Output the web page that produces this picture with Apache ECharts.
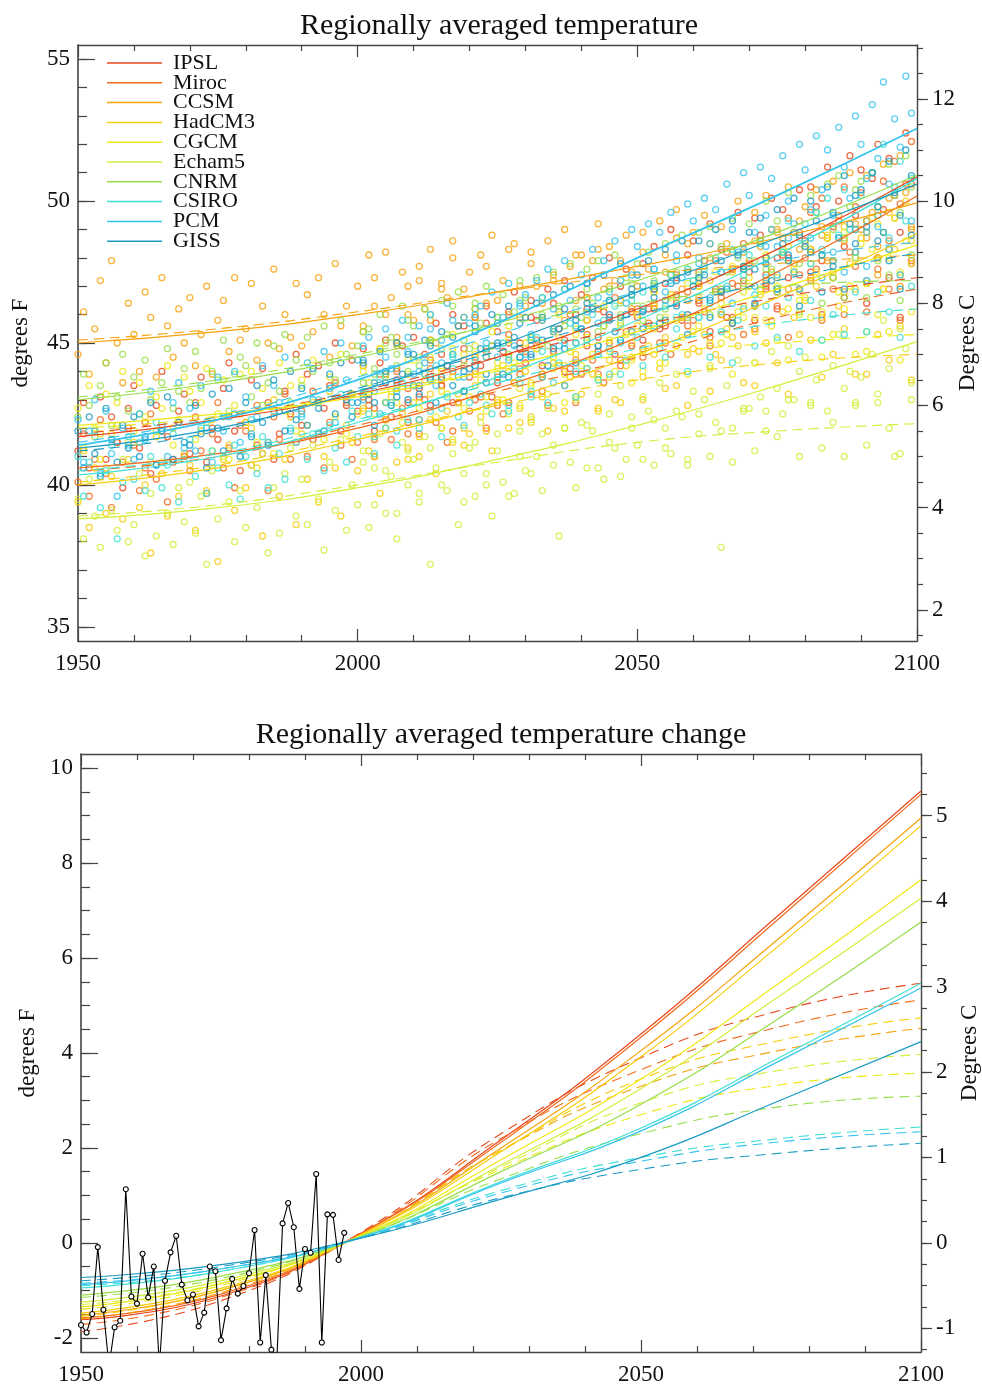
<!DOCTYPE html>
<html>
<head>
<meta charset="utf-8">
<title>Regionally averaged temperature</title>
<script src="https://cdn.jsdelivr.net/npm/echarts@6/dist/echarts.min.js"></script>
<style>
  html, body { margin: 0; padding: 0; background: #fff; }
  #chart { width: 982px; height: 1386px; }
</style>
</head>
<body>
<div id="chart"></div>
<script>
// ---- Models and colours ----
const models = ['IPSL', 'Miroc', 'CCSM', 'HadCM3', 'CGCM', 'Echam5', 'CNRM', 'CSIRO', 'PCM', 'GISS'];
const modelColors = ['#e8481e', '#f26a1b', '#f6a20c', '#f7cc0a', '#efe814', '#d4ee3c', '#98de4a', '#3ee0d6', '#34c4ee', '#1a9cc4'];

// ---- Annual model temperatures (deg F): A2 runs 1950-2099, B1 runs every 2nd year 2001-2099 ----
const runStartYear = 1950;
const b1StartYear = 2001;
const b1Step = 2;

const ipslA2Run = [
  41.2,42.9,40.6,41.9,43.1,40.9,42.4,41.5,39.9,42.7,
  43.5,41.3,42.2,40.4,42.8,44.0,41.7,40.9,42.6,43.2,
  41.1,42.9,43.8,40.8,42.0,41.6,43.4,44.3,41.9,40.5,
  42.2,43.7,41.4,44.1,42.9,40.9,41.8,43.3,42.5,44.6,
  42.1,43.9,41.6,44.2,42.7,43.5,45.0,41.9,42.8,44.4,
  42.6,44.8,43.0,41.9,44.3,45.1,42.4,43.7,44.9,42.2,
  45.2,43.1,44.6,42.8,45.7,43.5,44.2,46.0,42.9,44.8,
  43.8,45.9,44.2,46.3,43.1,45.4,44.7,42.9,46.8,45.0,
  44.3,46.5,45.8,43.9,46.9,44.7,45.5,47.2,44.1,46.0,
  46.7,44.9,47.3,45.2,46.1,48.0,44.6,46.5,47.6,45.4,
  45.9,47.8,46.2,48.4,45.5,47.1,49.0,46.4,45.8,48.1,
  48.6,46.5,47.9,49.2,46.9,48.3,45.9,47.6,49.6,47.2,
  47.5,49.4,48.8,46.9,50.1,48.0,49.7,47.3,48.9,50.4,
  48.6,50.5,49.8,47.9,51.2,49.1,50.0,48.4,51.6,49.5,
  51.1,49.3,50.8,52.0,49.7,51.5,50.2,48.9,52.4,50.6];
const ipslB1Run = [
  44.2,42.7,43.9,45.0,42.9, 43.4,45.1,44.6,42.9,45.6,
  44.0,45.7,43.6,46.1,44.8, 45.9,44.2,46.4,45.1,43.9,
  46.2,44.7,45.9,47.0,44.9, 45.1,46.9,45.6,47.3,46.0,
  47.1,45.4,46.8,45.9,47.6, 45.8,47.4,46.2,48.0,46.9,
  47.5,46.0,47.9,46.6,48.2, 46.4,48.0,47.3,45.9,47.8];

const mirocA2Run = [
  40.1,41.8,39.6,40.9,42.3,40.4,39.2,41.5,40.8,42.0,
  41.4,39.8,40.6,42.5,40.2,41.9,39.4,40.8,42.2,41.0,
  40.5,42.4,41.2,39.7,41.8,42.9,40.6,41.3,39.9,42.1,
  41.9,40.7,42.8,41.1,39.8,42.4,41.6,43.2,40.9,41.5,
  42.6,41.0,43.3,41.8,40.6,42.2,43.6,41.4,42.9,40.9,
  41.5,43.2,42.8,41.0,43.9,42.3,41.6,44.1,42.7,43.4,
  43.5,41.8,43.0,44.4,42.2,43.7,41.5,44.0,42.9,43.3,
  42.6,44.5,43.1,42.0,44.9,43.8,42.5,45.3,43.6,44.1,
  44.7,43.2,45.1,43.8,42.8,45.5,44.2,43.5,46.0,44.4,
  43.9,45.8,44.4,46.2,43.6,45.0,46.6,44.2,45.4,46.1,
  46.2,44.8,45.7,47.1,45.0,46.5,44.6,47.4,45.9,46.8,
  45.8,47.5,46.1,45.2,47.9,46.6,48.2,45.7,47.0,48.5,
  47.8,46.3,48.6,47.1,49.0,46.8,48.1,49.4,47.5,48.9,
  48.0,49.6,47.6,50.1,48.7,47.3,49.3,50.5,48.2,49.8,
  50.3,48.9,51.0,49.5,50.7,48.6,51.4,49.9,50.6,52.1];
const mirocB1Run = [
  43.1,41.6,42.9,44.0,41.8, 42.3,44.1,43.5,41.9,44.4,
  43.0,44.7,42.8,45.0,43.9, 44.9,43.3,45.4,44.0,42.9,
  45.3,43.9,45.8,44.4,46.1, 44.5,46.2,45.0,46.7,45.6,
  46.4,44.9,46.0,47.1,45.3, 45.5,47.0,46.3,45.2,47.4,
  47.2,45.8,46.9,46.0,47.7, 46.1,47.6,46.9,45.8,47.9];

const ccsmA2Run = [
  44.6,46.1,43.9,45.5,47.2,44.3,47.9,45.0,43.6,46.4,
  45.3,44.0,46.8,45.9,43.8,47.3,45.6,44.5,46.2,45.0,
  46.6,44.2,45.3,47.0,43.9,45.8,46.5,44.7,47.3,45.1,
  45.5,47.1,44.4,46.3,45.0,47.6,44.8,46.0,45.2,47.1,
  44.9,46.7,45.4,47.3,46.0,44.5,47.8,45.6,46.3,44.9,
  47.0,45.4,48.1,46.3,44.8,48.2,46.6,45.2,47.5,46.0,
  45.8,47.7,46.2,48.3,45.0,47.1,46.6,48.6,45.6,46.9,
  47.5,45.9,48.1,46.4,48.8,45.7,47.2,46.0,48.5,47.0,
  46.3,48.2,47.0,45.8,48.6,47.4,46.1,49.0,47.7,46.5,
  48.1,46.6,47.9,49.2,46.9,48.4,47.2,45.9,48.8,47.5,
  47.0,48.9,47.6,46.4,49.3,48.1,47.4,49.7,46.9,48.5,
  48.9,47.3,49.5,48.0,46.8,49.1,48.5,47.6,50.0,48.2,
  47.9,49.6,48.4,50.2,47.5,49.0,48.7,50.5,47.8,49.3,
  49.8,48.3,50.4,49.1,47.9,50.7,49.5,48.6,51.0,49.2,
  49.0,50.9,49.6,48.4,51.3,50.1,49.4,51.6,50.3,49.0];
const ccsmB1Run = [
  45.6,47.3,46.0,44.9,47.0, 47.2,45.8,46.9,48.0,45.9,
  46.2,47.7,46.5,48.3,45.9, 47.8,46.4,47.2,45.8,48.1,
  46.6,48.3,47.0,47.9,46.2, 48.2,46.8,47.5,48.7,46.5,
  47.0,48.5,46.9,48.2,47.7, 48.6,47.2,48.9,46.9,48.3,
  47.3,48.8,47.9,46.8,49.0, 48.7,47.4,48.3,47.0,49.1];

const hadcm3A2Run = [
  39.4,41.2,38.5,40.6,41.8,39.0,40.3,42.1,38.8,40.9,
  41.5,39.2,40.0,37.6,41.7,40.4,38.9,42.0,39.6,41.1,
  40.7,38.4,41.9,39.8,42.3,37.3,40.9,41.4,39.1,42.5,
  39.9,42.0,40.6,38.2,41.5,43.0,39.6,40.9,42.4,38.6,
  41.8,40.2,42.9,39.4,41.0,43.3,40.6,38.9,42.1,41.5,
  40.5,42.7,41.2,43.6,39.7,42.0,43.1,40.8,42.5,41.3,
  42.9,41.0,43.7,42.3,40.4,44.1,42.6,41.5,43.2,42.0,
  41.8,43.9,42.4,44.5,41.2,43.0,44.2,42.0,43.6,42.7,
  44.0,42.2,44.8,43.1,41.9,44.3,45.2,42.6,43.8,44.6,
  43.2,45.1,43.9,42.7,45.6,44.4,43.0,45.9,44.2,45.0,
  45.6,43.8,44.9,46.3,44.1,45.2,46.7,43.5,45.9,44.6,
  44.8,46.6,45.3,47.2,44.6,46.0,45.5,47.5,44.9,46.3,
  47.0,45.4,46.7,48.0,45.8,47.3,46.1,48.4,45.9,46.8,
  46.5,48.3,47.0,45.9,48.8,47.5,46.3,49.1,47.8,46.9,
  48.7,47.1,49.4,48.0,46.9,49.6,48.3,47.4,50.0,48.6];
const hadcm3B1Run = [
  42.6,41.0,42.3,43.4,40.9, 41.7,43.2,42.0,43.8,41.4,
  43.5,41.9,42.9,44.0,42.2, 42.4,43.9,42.7,44.2,43.1,
  44.1,42.6,43.8,42.9,44.5, 43.0,44.6,43.4,44.9,42.8,
  44.7,43.3,44.4,45.2,43.6, 43.5,45.0,44.3,43.2,45.3,
  45.1,43.8,44.6,45.5,43.9, 43.9,45.3,44.4,45.6,43.7];

const cgcmA2Run = [
  42.7,41.3,43.5,42.0,40.9,43.2,41.8,42.9,44.0,41.5,
  41.9,43.6,42.4,40.8,43.1,42.7,44.2,41.4,42.3,43.8,
  43.3,41.6,42.9,44.1,41.2,42.5,43.7,40.9,42.8,43.9,
  42.2,44.0,41.5,43.4,42.8,41.1,44.3,42.6,43.5,41.9,
  43.7,42.1,44.4,42.9,41.6,43.8,42.4,44.6,41.8,43.2,
  42.5,44.2,43.6,41.7,44.8,42.9,43.3,45.0,42.2,43.9,
  44.4,42.7,43.9,45.1,42.4,44.0,43.2,45.3,42.9,44.6,
  43.1,44.9,43.7,42.6,45.4,44.1,43.0,45.6,44.3,42.8,
  45.0,43.6,44.8,45.9,43.2,44.5,46.0,43.9,44.7,45.5,
  44.2,45.8,44.6,43.7,46.3,45.1,44.0,46.5,45.3,44.4,
  46.0,44.7,45.5,46.8,44.3,45.9,46.6,44.9,45.2,47.1,
  45.4,47.0,46.2,45.0,47.5,46.4,45.3,47.7,46.1,46.8,
  47.3,45.9,46.9,48.1,45.6,47.0,48.3,46.2,47.6,46.5,
  46.6,48.2,47.5,46.1,48.7,47.3,46.8,48.9,47.0,48.0,
  48.5,47.1,48.3,49.2,46.9,48.0,49.4,47.5,48.6,47.8];
const cgcmB1Run = [
  44.0,42.5,43.8,42.9,44.4, 42.9,44.5,43.3,44.8,42.7,
  44.6,43.1,44.3,45.1,43.4, 43.5,45.0,44.1,42.9,45.3,
  45.2,43.8,44.7,45.6,43.6, 44.0,45.5,44.3,45.8,43.9,
  45.6,44.2,45.0,43.9,45.9, 44.3,45.8,45.1,44.4,46.0,
  45.9,44.5,45.3,46.2,44.6, 44.7,46.0,45.4,44.4,46.1];

const echam5A2Run = [
  39.5,38.1,40.2,38.9,37.8,40.6,39.1,38.4,40.9,38.0,
  38.6,40.4,37.5,39.7,38.2,40.8,39.0,37.9,39.9,38.7,
  40.1,38.3,39.6,37.2,40.5,38.8,41.0,39.4,38.0,39.8,
  38.5,40.7,39.2,41.1,37.6,39.9,38.3,40.4,41.3,38.9,
  40.2,38.6,41.4,39.5,37.7,40.8,39.1,41.6,38.4,40.0,
  39.3,41.2,38.5,40.6,41.8,39.0,40.3,38.1,41.5,40.0,
  40.9,39.4,41.7,37.2,40.6,42.0,39.8,41.1,38.6,40.4,
  41.3,39.6,42.2,40.4,38.9,41.8,40.1,42.5,39.7,41.0,
  40.5,42.3,41.0,39.8,42.7,41.4,38.2,42.0,40.8,43.0,
  42.2,40.6,41.9,43.2,40.2,42.5,41.3,43.5,40.9,42.0,
  41.4,43.1,42.6,40.7,43.6,42.0,41.1,43.9,42.4,40.9,
  43.3,41.8,43.0,44.1,42.2,37.8,43.5,42.0,44.4,42.6,
  42.7,44.3,43.1,41.9,44.7,43.4,42.5,44.9,43.0,44.0,
  44.5,42.9,43.7,45.1,42.6,44.2,45.3,43.4,44.0,42.8,
  43.8,45.4,44.6,43.2,45.8,44.1,41.0,45.5,44.8,43.6];
const echam5B1Run = [
  40.8,39.3,40.5,39.0,41.2, 39.7,41.3,40.0,41.6,39.4,
  41.5,40.0,41.2,39.6,41.9, 40.4,41.8,40.7,42.0,39.9,
  42.1,40.6,41.5,40.3,42.4, 40.9,42.3,41.3,42.6,40.7,
  42.5,41.0,41.9,40.8,42.7, 41.2,42.6,41.7,43.0,41.0,
  42.8,41.3,42.2,41.0,42.9, 41.4,42.9,42.0,41.1,43.0];

const cnrmA2Run = [
  42.4,43.9,42.8,41.7,43.5,44.3,42.1,43.1,44.6,42.6,
  43.8,42.5,44.4,43.0,41.9,43.6,44.8,42.7,43.3,44.1,
  42.9,44.7,43.4,42.2,44.0,43.7,45.1,42.6,43.9,44.5,
  44.2,43.1,45.0,42.8,43.6,44.9,43.3,45.3,42.9,44.4,
  43.5,45.2,44.0,42.9,45.6,44.3,43.7,45.8,44.6,43.2,
  44.9,43.6,45.5,44.1,46.0,43.9,45.2,44.6,46.3,44.0,
  45.6,44.2,46.2,45.0,43.8,46.5,45.3,44.6,46.8,45.1,
  44.8,46.4,45.7,47.0,44.9,45.9,46.7,44.5,46.1,47.2,
  46.6,45.2,47.3,46.0,44.9,47.5,46.3,45.6,47.8,46.2,
  45.9,47.6,46.4,47.9,45.6,46.9,48.1,46.0,47.3,46.7,
  47.8,46.3,48.2,47.0,45.9,48.5,47.4,46.6,48.8,47.6,
  47.2,48.9,47.7,49.1,46.8,48.4,47.5,49.4,48.0,47.1,
  49.2,47.9,48.6,50.0,47.6,49.3,48.2,50.3,48.9,47.8,
  48.5,50.2,49.6,48.1,50.6,49.0,50.9,48.7,49.8,50.4,
  50.7,49.3,51.0,49.8,48.9,51.3,50.2,49.6,51.6,50.5];
const cnrmB1Run = [
  45.4,43.9,45.0,44.2,45.8, 44.5,46.0,44.8,46.3,44.2,
  46.2,44.8,45.9,44.6,46.5, 45.2,46.6,45.5,46.9,45.0,
  46.9,45.4,46.5,45.7,47.1, 45.8,47.2,46.2,47.5,45.9,
  47.4,46.0,46.9,45.8,47.7, 46.3,47.6,46.8,47.9,46.1,
  47.8,46.4,47.3,46.6,48.0, 46.6,47.9,47.4,46.5,48.1];

const csiroA2Run = [
  41.0,39.6,40.8,41.9,39.2,40.5,41.4,38.1,40.1,41.7,
  40.2,41.5,39.8,41.0,42.2,39.9,40.7,41.8,39.4,40.9,
  41.6,40.3,42.0,39.7,41.2,40.6,42.4,40.0,41.4,39.5,
  41.0,42.3,40.4,41.7,39.9,42.6,41.1,40.2,42.0,41.5,
  42.4,40.9,41.8,43.0,40.5,42.1,41.3,43.2,40.8,42.6,
  41.7,43.3,42.5,41.1,43.8,42.0,42.9,41.4,43.6,42.3,
  43.5,42.0,43.9,42.6,44.2,41.7,43.1,44.5,42.4,43.3,
  42.9,44.4,43.2,44.8,42.5,43.7,45.0,42.8,44.1,43.6,
  44.6,43.1,45.2,43.8,42.9,45.4,44.3,43.5,45.7,44.0,
  45.5,44.1,46.0,44.6,45.8,43.9,46.3,45.0,44.4,46.5,
  45.2,46.8,45.6,47.1,44.8,46.3,47.4,45.5,46.0,47.6,
  47.2,45.9,47.6,46.4,48.0,46.1,47.0,48.3,45.8,47.4,
  48.1,46.7,48.5,47.3,49.0,46.9,48.2,49.3,47.5,48.7,
  49.2,47.8,49.6,48.3,50.1,47.9,48.8,50.4,49.0,48.2,
  50.2,48.9,51.0,49.5,52.0,48.7,50.5,51.4,49.3,50.8];
const csiroB1Run = [
  43.2,41.7,42.9,41.9,43.5, 42.3,43.8,42.7,44.1,42.1,
  44.2,42.8,43.9,42.6,44.5, 43.3,44.7,43.6,45.0,43.1,
  45.1,43.7,44.8,43.9,45.4, 44.2,45.6,44.5,45.9,44.0,
  45.9,44.5,45.4,44.3,46.2, 44.9,46.3,45.2,46.6,44.7,
  46.5,45.1,46.0,45.3,46.8, 45.4,46.8,46.1,45.2,47.0];

const pcmA2Run = [
  42.3,40.8,41.9,43.0,40.4,42.6,41.1,39.6,42.0,41.4,
  40.9,42.5,41.6,43.3,40.7,42.1,41.0,42.9,43.6,41.3,
  42.7,41.2,43.5,42.0,40.8,43.8,41.9,42.4,44.0,41.5,
  43.1,41.8,42.4,44.2,41.5,43.5,42.9,44.5,41.9,42.7,
  42.5,44.3,43.0,41.8,44.7,43.4,42.2,45.0,43.7,42.9,
  44.4,43.0,45.2,43.6,42.5,45.5,44.1,43.3,45.8,44.7,
  43.9,45.6,44.3,46.0,43.5,45.1,46.4,44.6,43.8,45.9,
  45.7,44.2,46.3,45.0,46.8,44.5,45.9,47.1,44.9,46.4,
  46.7,45.3,47.2,45.8,47.6,46.2,44.9,47.9,46.5,45.6,
  47.4,46.1,48.3,46.6,47.9,45.8,48.6,47.2,46.4,49.0,
  48.4,47.0,49.2,47.6,48.9,46.8,49.6,48.1,47.3,49.9,
  49.3,47.8,50.1,48.5,49.7,47.5,50.6,49.0,48.2,51.0,
  50.2,48.9,51.2,49.5,50.8,48.4,51.6,50.0,49.2,52.0,
  51.1,49.7,52.3,50.4,51.8,49.5,52.6,51.2,50.1,53.0,
  52.0,50.8,53.4,51.5,54.2,50.6,52.9,51.9,54.4,53.1];
const pcmB1Run = [
  44.9,43.3,44.5,43.6,45.2, 44.0,45.5,44.3,45.8,43.8,
  46.0,44.5,45.7,44.4,46.3, 45.1,46.6,45.5,46.9,45.0,
  47.1,45.7,46.8,45.9,47.4, 46.2,47.6,46.5,47.9,46.0,
  48.0,46.6,47.5,46.4,48.3, 47.0,48.4,47.4,48.7,46.9,
  48.7,47.3,48.2,47.5,49.0, 47.7,49.1,48.3,47.4,49.3];

const gissA2Run = [
  41.9,40.6,42.4,41.1,40.3,42.7,41.6,40.8,42.1,41.3,
  42.4,41.0,41.7,42.9,40.7,41.9,43.1,40.9,42.2,41.5,
  41.4,42.8,41.8,40.6,43.2,42.0,41.2,43.4,42.5,41.0,
  42.9,41.7,43.5,42.2,41.4,43.7,42.6,41.9,44.0,42.3,
  43.4,42.1,44.1,42.7,41.9,43.9,42.5,44.3,43.0,42.4,
  42.9,44.4,43.2,42.1,44.7,43.6,42.8,45.0,43.9,43.0,
  44.6,43.2,45.1,43.7,42.9,45.4,44.2,43.5,45.6,44.0,
  44.1,45.6,44.8,43.6,46.0,44.9,43.9,46.3,45.2,44.5,
  45.9,44.6,46.4,45.1,44.2,46.7,45.5,44.8,47.0,45.8,
  45.5,47.1,46.2,44.9,47.4,46.5,45.4,47.8,46.0,46.9,
  47.4,46.1,47.9,46.6,45.7,48.3,47.1,46.3,48.6,47.5,
  47.0,48.6,47.4,46.5,49.0,47.9,46.9,49.3,48.1,47.7,
  48.9,47.6,49.4,48.0,47.2,49.7,48.5,47.9,50.1,48.8,
  48.4,50.0,49.3,48.1,50.5,49.6,48.7,50.9,49.2,50.2,
  50.4,49.1,51.0,49.8,48.9,51.4,50.3,49.5,51.8,50.9];
const gissB1Run = [
  44.3,42.9,44.0,43.1,44.6, 43.5,44.9,43.8,45.2,43.3,
  45.4,43.9,45.0,43.8,45.7, 44.5,45.9,44.8,46.2,44.3,
  46.4,44.9,46.0,45.1,46.7, 45.5,46.9,45.8,47.2,45.3,
  47.3,45.9,46.8,45.7,47.6, 46.4,47.8,46.9,48.1,46.3,
  48.2,46.8,47.7,46.9,48.5, 47.2,48.6,47.9,46.9,48.8];

// ---- Fitted curves (deg F) at these years ----
const fitYears = [1950, 1975, 2000, 2025, 2050, 2075, 2100];
const ipslA2Fit   = [41.7, 42.3, 43.2, 44.5, 46.2, 48.3, 50.86];
const mirocA2Fit  = [40.6, 41.1, 42.0, 43.4, 45.2, 47.5, 50.18];
const ccsmA2Fit   = [45.0, 45.4, 46.0, 46.8, 47.7, 48.7, 49.94];
const hadcm3A2Fit = [40.0, 40.6, 41.6, 42.9, 44.6, 46.6, 48.86];
const cgcmA2Fit   = [42.1, 42.5, 43.1, 44.1, 45.4, 46.9, 48.45];
const echam5A2Fit = [38.8, 39.2, 39.9, 40.9, 42.1, 43.5, 45.05];
const cnrmA2Fit   = [43.0, 43.6, 44.5, 45.7, 47.2, 48.9, 50.92];
const csiroA2Fit  = [40.35, 41.0, 42.2, 43.8, 45.8, 48.1, 50.8];
const pcmA2Fit    = [41.4, 42.3, 43.7, 45.7, 48.0, 50.2, 52.56];
const gissA2Fit   = [41.3, 42.0, 43.3, 44.9, 46.8, 48.7, 50.6];

const ipslB1Fit   = [41.8, 42.4, 43.3, 44.5, 45.6, 46.6, 47.3];
const mirocB1Fit  = [40.5, 41.0, 42.1, 43.3, 44.5, 45.9, 46.9];
const ccsmB1Fit   = [45.1, 45.5, 46.1, 46.8, 47.4, 47.8, 48.1];
const hadcm3B1Fit = [40.1, 40.7, 41.7, 42.8, 43.7, 44.3, 44.6];
const cgcmB1Fit   = [42.0, 42.4, 43.2, 44.0, 44.6, 45.0, 45.3];
const echam5B1Fit = [38.9, 39.3, 40.0, 40.8, 41.5, 41.9, 42.16];
const cnrmB1Fit   = [43.1, 43.7, 44.6, 45.6, 46.4, 47.0, 47.2];
const csiroB1Fit  = [40.5, 41.1, 42.3, 43.6, 44.8, 45.7, 46.2];
const pcmB1Fit    = [41.5, 42.4, 43.8, 45.3, 46.8, 47.9, 48.55];
const gissB1Fit   = [41.2, 41.9, 43.4, 44.7, 46.0, 47.2, 48.17];

// ---- Temperature change curves (deg F) at fitYears ----
const ipslA2Change   = [-1.62, -1.12, 0.20, 2.17, 4.40, 6.95, 9.52];
const mirocA2Change  = [-1.58, -1.08, 0.20, 2.12, 4.33, 6.87, 9.45];
const ccsmA2Change   = [-1.52, -1.00, 0.18, 2.00, 4.05, 6.45, 8.95];
const hadcm3A2Change = [-1.48, -0.96, 0.17, 1.92, 3.92, 6.30, 8.79];
const cgcmA2Change   = [-1.35, -0.86, 0.15, 1.75, 3.45, 5.50, 7.65];
const echam5A2Change = [-1.25, -0.80, 0.14, 1.64, 3.25, 5.22, 7.26];
const cnrmA2Change   = [-1.10, -0.70, 0.13, 1.50, 2.92, 4.76, 6.76];
const csiroA2Change  = [-0.95, -0.60, 0.12, 1.29, 2.42, 3.92, 5.47];
const pcmA2Change    = [-0.88, -0.55, 0.11, 1.26, 2.36, 3.85, 5.37];
const gissA2Change   = [-0.73, -0.46, 0.10, 0.92, 1.80, 3.01, 4.24];

const ipslB1Change   = [-1.87, -1.22, 0.22, 2.30, 3.90, 4.90, 5.47];
const mirocB1Change  = [-1.72, -1.15, 0.20, 2.20, 3.65, 4.56, 5.12];
const ccsmB1Change   = [-1.60, -1.05, 0.17, 1.95, 3.30, 4.06, 4.52];
const hadcm3B1Change = [-1.55, -1.00, 0.17, 1.95, 3.45, 4.27, 4.74];
const cgcmB1Change   = [-1.40, -0.90, 0.15, 1.55, 2.70, 3.33, 3.57];
const echam5B1Change = [-1.30, -0.85, 0.14, 1.60, 2.95, 3.64, 3.97];
const cnrmB1Change   = [-1.15, -0.75, 0.13, 1.35, 2.30, 2.87, 3.09];
const csiroB1Change  = [-0.90, -0.60, 0.12, 1.10, 1.80, 2.20, 2.44];
const pcmB1Change    = [-0.85, -0.55, 0.11, 1.05, 1.72, 2.13, 2.34];
const gissB1Change   = [-0.80, -0.50, 0.10, 0.95, 1.55, 1.89, 2.10];

// ---- Observed annual change (deg F), 1950-1997 ----
const obsStartYear = 1950;
const observedChange = [
  -1.73,-1.89,-1.50,-0.09,-1.41,-2.60,-1.78,-1.64, 1.13,-1.13,
  -1.28,-0.23,-1.15,-0.50,-2.60,-0.80,-0.20, 0.15,-0.88,-1.21,
  -1.09,-1.76,-1.47,-0.50,-0.60,-2.05,-1.38,-0.76,-1.07,-0.91,
  -0.64, 0.27,-2.10,-0.68,-2.25,-2.40, 0.41, 0.84, 0.33,-0.97,
  -0.13,-0.21, 1.45,-2.10, 0.60, 0.59,-0.36, 0.21];

// ---- Axis ranges and tick labels ----
const topRangeF = [34.5, 55.5];
const bottomRangeF = [-2.3, 10.3];
const topFLabels = [35, 40, 45, 50, 55];
const topCLabels = [2, 4, 6, 8, 10, 12];
const bottomFLabels = [-2, 0, 2, 4, 6, 8, 10];
const bottomCLabels = [-1, 0, 1, 2, 3, 4, 5];
const yearLabels = [1950, 2000, 2050, 2100];

// ---- Build tables ----
const a2Runs = [ipslA2Run, mirocA2Run, ccsmA2Run, hadcm3A2Run, cgcmA2Run, echam5A2Run, cnrmA2Run, csiroA2Run, pcmA2Run, gissA2Run];
const b1Runs = [ipslB1Run, mirocB1Run, ccsmB1Run, hadcm3B1Run, cgcmB1Run, echam5B1Run, cnrmB1Run, csiroB1Run, pcmB1Run, gissB1Run];
const a2Fits = [ipslA2Fit, mirocA2Fit, ccsmA2Fit, hadcm3A2Fit, cgcmA2Fit, echam5A2Fit, cnrmA2Fit, csiroA2Fit, pcmA2Fit, gissA2Fit];
const b1Fits = [ipslB1Fit, mirocB1Fit, ccsmB1Fit, hadcm3B1Fit, cgcmB1Fit, echam5B1Fit, cnrmB1Fit, csiroB1Fit, pcmB1Fit, gissB1Fit];
const a2Changes = [ipslA2Change, mirocA2Change, ccsmA2Change, hadcm3A2Change, cgcmA2Change, echam5A2Change, cnrmA2Change, csiroA2Change, pcmA2Change, gissA2Change];
const b1Changes = [ipslB1Change, mirocB1Change, ccsmB1Change, hadcm3B1Change, cgcmB1Change, echam5B1Change, cnrmB1Change, csiroB1Change, pcmB1Change, gissB1Change];

const fToC = f => (f - 32) * 5 / 9;   // absolute temperature
const dfToDc = f => f * 5 / 9;        // temperature difference
function range(a, b, step) {
  const out = [];
  for (let v = a; v <= b + 1e-9; v += step) out.push(Math.round(v * 1000) / 1000);
  return out;
}

const FONT = 'Liberation Serif';
const INK = '#111';
const AXIS = '#444';
const labelStyle = { fontFamily: FONT, fontSize: 23, color: INK };

function xAxes(gridIndex) {
  const common = {
    type: 'value', gridIndex, min: 1950, max: 2100, interval: 50,
    splitLine: { show: false },
    axisLine: { onZero: false, lineStyle: { color: AXIS, width: 1.4 } },
    axisTick: { inside: true, length: 12, lineStyle: { color: AXIS, width: 1.2 } },
    minorTick: { show: true, splitNumber: 5, length: 6, lineStyle: { color: AXIS, width: 1.2 } }
  };
  return [
    Object.assign({}, common, {
      position: 'bottom',
      axisLabel: Object.assign({ margin: 11, showMinLabel: true, showMaxLabel: true,
        customValues: yearLabels, formatter: v => String(v) }, labelStyle)
    }),
    Object.assign({}, common, { position: 'top', axisLabel: { show: false } })
  ];
}

function yAxes(gridIndex, rangeF, fMajor, fMinor, conv, cMajor, cMinor, fGap, cGap) {
  const cMin = conv(rangeF[0]), cMax = conv(rangeF[1]);
  const tick = { color: AXIS, width: 1.2 };
  return [
    { type: 'value', gridIndex, position: 'left', min: rangeF[0], max: rangeF[1],
      name: 'degrees F', nameLocation: 'middle', nameGap: fGap, nameRotate: 90,
      nameTextStyle: { fontFamily: FONT, fontSize: 23, color: INK },
      splitLine: { show: false },
      axisLine: { show: true, onZero: false, lineStyle: { color: AXIS, width: 1.6 } },
      axisTick: { inside: true, length: 17, customValues: fMajor, lineStyle: tick },
      axisLabel: Object.assign({ margin: 8, customValues: fMajor }, labelStyle) },
    { type: 'value', gridIndex, position: 'left', min: rangeF[0], max: rangeF[1],
      splitLine: { show: false }, axisLine: { show: false, onZero: false },
      axisTick: { inside: true, length: 9, customValues: fMinor, lineStyle: tick },
      axisLabel: { show: false } },
    { type: 'value', gridIndex, position: 'right', min: cMin, max: cMax,
      name: 'Degrees C', nameLocation: 'middle', nameGap: cGap, nameRotate: 90,
      nameMoveOverlap: false,
      nameTextStyle: { fontFamily: FONT, fontSize: 23, color: INK },
      splitLine: { show: false },
      axisLine: { show: true, onZero: false, lineStyle: { color: AXIS, width: 1.4 } },
      axisTick: { inside: false, length: 11, customValues: cMajor, lineStyle: tick },
      axisLabel: Object.assign({ margin: 15, customValues: cMajor }, labelStyle) },
    { type: 'value', gridIndex, position: 'right', min: cMin, max: cMax,
      splitLine: { show: false }, axisLine: { show: false, onZero: false },
      axisTick: { inside: false, length: 6, customValues: cMinor, lineStyle: tick },
      axisLabel: { show: false } }
  ];
}

const series = [];
const DASH = [10, 6];

models.forEach((m, i) => {
  const c = modelColors[i];
  const hollow = { color: 'rgba(0,0,0,0)', borderColor: c, borderWidth: 1.3 };
  series.push({
    type: 'scatter', name: m + ' A2 annual', xAxisIndex: 0, yAxisIndex: 0, z: 2,
    symbol: 'circle', symbolSize: 6, itemStyle: hollow, clip: true,
    data: a2Runs[i].map((v, k) => [runStartYear + k, v])
  });
  series.push({
    type: 'scatter', name: m + ' B1 annual', xAxisIndex: 0, yAxisIndex: 0, z: 2,
    symbol: 'circle', symbolSize: 6, itemStyle: hollow, clip: true,
    data: b1Runs[i].map((v, k) => [b1StartYear + k * b1Step, v])
  });
});

models.forEach((m, i) => {
  const c = modelColors[i];
  const w = m === 'PCM' ? 1.8 : 1.2;
  series.push({
    type: 'line', name: m, xAxisIndex: 0, yAxisIndex: 0, z: 4,
    smooth: 0.5, showSymbol: false, symbol: 'none',
    color: c, lineStyle: { color: c, width: w },
    data: fitYears.map((y, k) => [y, a2Fits[i][k]])
  });
  series.push({
    type: 'line', name: m + ' B1 fit', xAxisIndex: 0, yAxisIndex: 0, z: 4,
    smooth: 0.5, showSymbol: false, symbol: 'none',
    lineStyle: { color: c, width: 1.1, type: DASH },
    data: fitYears.map((y, k) => [y, b1Fits[i][k]])
  });
  series.push({
    type: 'line', name: m + ' A2 change', xAxisIndex: 2, yAxisIndex: 4, z: 3,
    smooth: 0.5, showSymbol: false, symbol: 'none',
    lineStyle: { color: c, width: 1.2 },
    data: fitYears.map((y, k) => [y, a2Changes[i][k]])
  });
  series.push({
    type: 'line', name: m + ' B1 change', xAxisIndex: 2, yAxisIndex: 4, z: 3,
    smooth: 0.5, showSymbol: false, symbol: 'none',
    lineStyle: { color: c, width: 1.1, type: DASH },
    data: fitYears.map((y, k) => [y, b1Changes[i][k]])
  });
});

series.push({
  type: 'line', name: 'Observed', xAxisIndex: 2, yAxisIndex: 4, z: 6, clip: true,
  symbol: 'circle', symbolSize: 5, showSymbol: true, showAllSymbol: true,
  lineStyle: { color: '#000', width: 1.1 },
  itemStyle: { color: '#fff', borderColor: '#000', borderWidth: 1.1 },
  data: observedChange.map((v, k) => [obsStartYear + k, v])
});

const option = {
  animation: false,
  backgroundColor: '#fff',
  title: [
    { text: 'Regionally averaged temperature', left: 494, top: 6, textAlign: 'center',
      textStyle: { fontFamily: FONT, fontSize: 30, fontWeight: 'normal', color: INK } },
    { text: 'Regionally averaged temperature change', left: 496, top: 715, textAlign: 'center',
      textStyle: { fontFamily: FONT, fontSize: 30, fontWeight: 'normal', color: INK } }
  ],
  legend: {
    data: models, orient: 'vertical', left: 107, top: 52, padding: 0,
    icon: 'rect', itemWidth: 55, itemHeight: 1.5, itemGap: -2.2,
    textStyle: { fontFamily: FONT, fontSize: 22, color: INK, padding: [0, 0, 0, 6] },
    selectedMode: false
  },
  grid: [
    { left: 78, right: 65, top: 45, height: 596, outerBoundsMode: 'none' },
    { left: 81, right: 61, top: 754, height: 598, outerBoundsMode: 'none' }
  ],
  xAxis: xAxes(0).concat(xAxes(1)),
  yAxis: yAxes(0, topRangeF, topFLabels, range(35, 55, 1), fToC, topCLabels, range(1.5, 13, 0.5), 46, 39)
    .concat(yAxes(1, bottomRangeF, bottomFLabels, range(-2, 10, 0.5), dfToDc, bottomCLabels, range(-1.25, 5.5, 0.25), 42, 37)),
  series
};

const chart = echarts.init(document.getElementById('chart'), null, { renderer: 'canvas' });
chart.setOption(option);
</script>
</body>
</html>
